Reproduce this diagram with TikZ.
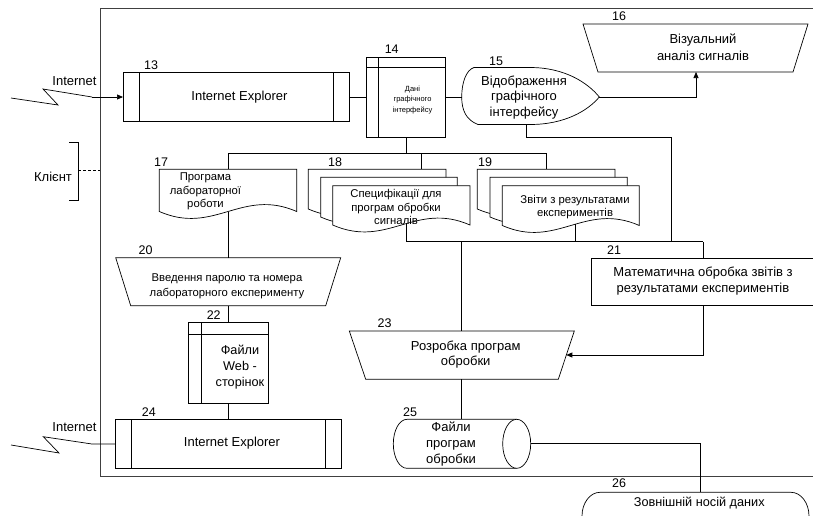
\documentclass[tikz,border=0pt]{standalone}
\usepackage{fontspec}
\setmainfont{Liberation Sans}
\usetikzlibrary{arrows.meta}
\newcommand{\docshape}[4]{%
  \pgfmathsetmacro\dcpa{#3-0.4*(#3-#1)}%
  \pgfmathsetmacro\dcpb{#1+0.4*(#3-#1)}%
  \filldraw[shp] (#1,#2) -- (#3,#2) -- (#3,#4) .. controls (\dcpa,#4-24) and (\dcpb,#4+24) .. (#1,#4) -- cycle;}
\begin{document}
\begin{tikzpicture}[x=1pt,y=-1pt,
  shp/.style={draw=black, line width=0.7pt, fill=white},
  conn/.style={draw=black, line width=0.7pt},
  arr/.style={conn, -{Triangle[length=6pt,width=5pt]}},
  frm/.style={draw=black!75, line width=1pt},
  num/.style={font=\fontsize{12.5}{14}\selectfont, inner sep=0pt},
  big/.style={font=\fontsize{13}{16}\selectfont, align=center, inner sep=0pt},
  mid/.style={font=\fontsize{11.3}{13.8}\selectfont, align=center, inner sep=0pt},
  tiny/.style={font=\fontsize{7.5}{10.5}\selectfont, align=center, inner sep=0pt},
  box/.style={shp, rectangle, inner sep=0pt, outer sep=0pt}]
\useasboundingbox (0,0) rectangle (813,515);

% frame
\draw[frm] (815,8) -- (100,8) -- (100,476) -- (815,476);

% 13
\node[box, minimum width=226pt, minimum height=49pt] (b13) at (236,97) {};
\draw[conn] ([xshift=16.5pt]b13.north west) -- ([xshift=16.5pt]b13.south west);
\draw[conn] ([xshift=-16pt]b13.north east) -- ([xshift=-16pt]b13.south east);
% 14
\node[box, minimum width=79.7pt, minimum height=80pt] (b14) at (405.85,97) {};
\draw[conn] ([xshift=12.7pt]b14.north west) -- ([xshift=12.7pt]b14.south west);
\draw[conn] ([yshift=-10.7pt]b14.north west) -- ([yshift=-10.7pt]b14.north east);
% 15
\draw[shp] (478,124.5) .. controls (466,120) and (461.7,110) .. (461.7,97)
  .. controls (461.7,83) and (466,70) .. (474,67.5) -- (530,67.5)
  .. controls (565,67.5) and (588,83) .. (599.3,97)
  .. controls (588,110.5) and (565,124.5) .. (530,124.5) -- cycle;
\coordinate (w15) at (461.7,97);
\coordinate (e15) at (599.3,97);
\coordinate (s15) at (526.7,124.5);
% 16
\draw[shp] (583,24) -- (808,24) -- (793,72) -- (598,72) -- cycle;
\coordinate (s16) at (696,72);
% 17
\docshape{159.3}{169.3}{296.7}{211.5}
\coordinate (n17) at (228.5,169.3);
\coordinate (s17) at (228.5,211.5);
% 18
\docshape{308.3}{169.3}{446}{209}
\docshape{320.7}{177.3}{457.3}{217}
\docshape{332.7}{185.7}{470}{225}
\coordinate (n18) at (421.7,169.3);
\coordinate (s18) at (406,224);
% 19
\docshape{477.3}{169.3}{615}{209}
\docshape{490}{177.3}{627.3}{217}
\docshape{502.3}{185.7}{639.3}{225.5}
\coordinate (n19) at (546.7,169.3);
\coordinate (s19) at (575,224.4);
% 20
\draw[shp] (115.7,257.7) -- (340.7,257.7) -- (325.7,305.7) -- (130.7,305.7) -- cycle;
\coordinate (n20) at (228.5,257.7);
\coordinate (s20) at (228.5,305.7);
% 21
\node[box, minimum width=224pt, minimum height=47.4pt] (b21) at (703,282) {};
% 22
\node[box, minimum width=80.4pt, minimum height=80.6pt] (b22) at (228.5,363) {};
\draw[conn] ([xshift=13pt]b22.north west) -- ([xshift=13pt]b22.south west);
\draw[conn] ([yshift=-11.3pt]b22.north west) -- ([yshift=-11.3pt]b22.north east);
% 23
\draw[shp] (349.3,331) -- (574.3,331) -- (558.3,379.3) -- (365.7,379.3) -- cycle;
\coordinate (n23) at (461.7,331);
\coordinate (s23) at (461.7,379.3);
\coordinate (e23) at (566.3,355);
% 24
\node[box, minimum width=225.6pt, minimum height=49pt] (b24) at (228.5,444) {};
\draw[conn] ([xshift=16pt]b24.north west) -- ([xshift=16pt]b24.south west);
\draw[conn] ([xshift=-16pt]b24.north east) -- ([xshift=-16pt]b24.south east);
% 25
\draw[shp] (516.7,419.3) -- (407,419.3) .. controls (399.4,419.3) and (393.3,430.3) .. (393.3,443.8)
  .. controls (393.3,457.3) and (399.4,468.3) .. (407,468.3) -- (516.7,468.3);
\draw[shp] (516.7,443.8) ellipse [x radius=14, y radius=24.5];
\coordinate (n25) at (461.7,419.3);
\coordinate (e25) at (530.7,443.8);
% 26
\draw[shp] (600,540) .. controls (590,540) and (582,529) .. (582,516)
  .. controls (582,503) and (590,492.3) .. (600,492.3) -- (791,492.3)
  .. controls (801,492.3) and (809,503) .. (809,516)
  .. controls (809,529) and (801,540) .. (791,540) -- cycle;
\coordinate (n26) at (700,492.3);

% client bracket
\draw[conn] (69.3,142.7) -- (78.3,142.7) -- (78.3,200.7) -- (69.3,200.7);
\coordinate (br) at (78.3,170);
\coordinate (fr) at (100,170);
\draw[conn, line width=1pt, dash pattern=on 3pt off 2pt] (br) -- (fr);

% connectors
\coordinate (lz1) at (92,97);
\draw[conn] (11,98) -- (58,105) -- (43,89) -- (lz1);
\draw[arr] (lz1) -- (b13.west);
\draw[conn] (b13.east) -- (b14.west);
\draw[conn] (b14.east) -- (w15);
\draw[arr] (e15) -| (s16);
\coordinate (j1) at (671,137.3);
\coordinate (l21) at (703,241.5);
\draw[conn] (s15) |- (j1) |- (l21);
\coordinate (u14) at (405.85,153);
\coordinate (u17) at (228.5,153);
\coordinate (u18) at (421.7,153);
\coordinate (u19) at (546.7,153);
\draw[conn] (b14.south) -- (u14);
\draw[conn] (u17) -- (u19);
\draw[conn] (u17) -- (n17);
\draw[conn] (u18) -- (n18);
\draw[conn] (u19) -- (n19);
\coordinate (l18) at (406,241.5);
\coordinate (l19) at (575,241.5);
\coordinate (l23) at (461.7,241.5);
\draw[conn] (s18) -- (l18) -- (l21);
\draw[conn] (s19) -- (l19);
\draw[conn] (l23) -- (n23);
\draw[conn] (b21.north) -- (l21);
\draw[arr] (b21.south) |- (e23);
\draw[conn] (s23) -- (n25);
\draw[conn] (e25) -| (n26);
\draw[conn] (s17) -- (n20);
\draw[conn] (s20) -- (b22.north);
\draw[conn] (b22.south) -- (b24.north);
\coordinate (lz2) at (92,444);
\draw[conn] (11,445) -- (59,453) -- (43.3,436.7) -- (lz2) -- (b24.west);

% texts
\node[big] (tin1) at (74.5,81.5) {Internet};
\node[big] (tin2) at (74.5,426.7) {Internet};
\node[big] (tkl) at (53,176.7) {Клієнт};
\node[big] (t13) at (239.5,97) {Internet Explorer};
\node[tiny] (t14) at (412.5,100) {Дані\\графічного\\інтерфейсу};
\node[big, font=\fontsize{13}{15.5}\selectfont] (t15) at (524,97.5) {Відображення\\графічного\\інтерфейсу};
\node[big, font=\fontsize{13}{17}\selectfont] (t16) at (703,47) {Візуальний\\аналіз сигналів};
\node[mid, font=\fontsize{11.3}{13.5}\selectfont] (t17) at (205.5,191.5) {Програма\\лабораторної\\роботи};
\node[mid] (t18) at (396,207) {Специфікації для\\програм обробки\\сигналів};
\node[mid, font=\fontsize{11.3}{13}\selectfont] (t19) at (575,207.5) {Звіти з результатами\\експериментів};
\node[mid, font=\fontsize{11.3}{15}\selectfont] (t20) at (227,286.5) {Введення паролю та номера\\лабораторного експерименту};
\node[big] (t21) at (703,281.3) {Математична обробка звітів з\\результатами експериментів};
\node[big, font=\fontsize{12.7}{16}\selectfont] (t22) at (240,366.7) {Файли\\Web -\\сторінок};
\node[big, font=\fontsize{13}{15.6}\selectfont] (t23) at (465.7,354.5) {Розробка програм\\обробки};
\node[big] (t24) at (232,443) {Internet Explorer};
\node[big] (t25) at (451,443.8) {Файли\\програм\\обробки};
\node[big, font=\fontsize{12.7}{15}\selectfont] (t26) at (699.3,503.3) {Зовнішній носій даних};

% numbers
\node[num] (k13) at (151,64.7) {13};
\node[num] (k14) at (391.7,49) {14};
\node[num] (k15) at (496,61) {15};
\node[num] (k16) at (619,16) {16};
\node[num] (k17) at (161,162) {17};
\node[num] (k18) at (335,162) {18};
\node[num] (k19) at (485,162) {19};
\node[num] (k20) at (145.5,250) {20};
\node[num] (k21) at (614,250) {21};
\node[num] (k22) at (213.7,314.7) {22};
\node[num] (k23) at (384.5,322.7) {23};
\node[num] (k24) at (148.8,411.7) {24};
\node[num] (k25) at (410,411.7) {25};
\node[num] (k26) at (619,483.3) {26};
\end{tikzpicture}
\end{document}
